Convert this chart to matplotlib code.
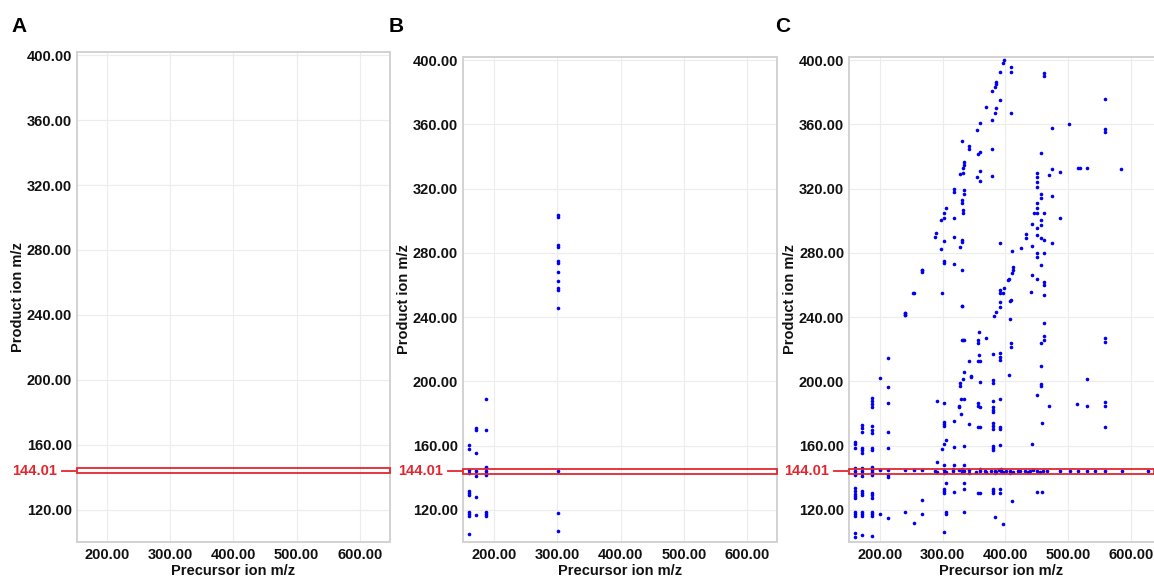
import matplotlib
matplotlib.use('Agg')
import matplotlib.pyplot as plt
import numpy as np
from matplotlib.patches import Rectangle
from matplotlib.ticker import FixedLocator, StrMethodFormatter

plt.rcParams['font.family'] = ['Liberation Sans', 'DejaVu Sans']

blue = '#0000f0'
red = '#e3262e'
target_mz = 144.01

# panel B: precursor / product ion pairs
b_precursor = [188, 188, 188, 188, 188, 188, 188, 188, 188, 188,
               171, 171, 171, 171, 171, 171, 171,
               160, 160, 160, 160, 160, 160, 160, 160, 160, 160, 160,
               301, 301, 301, 301, 301, 301, 301, 301, 301, 301, 301, 301, 301, 301]
b_product = [189, 170, 147, 146, 144.5, 143, 142, 119, 117.5, 116,
             171, 169.5, 155.6, 144, 141, 128, 117,
             160.4, 158, 145, 143, 132, 130.5, 129.4, 119, 117.5, 116, 105,
             303.5, 302.5, 285, 284, 275, 274, 268, 262.7, 258, 257, 245.7, 144.4, 118, 106.6]

# panel C: low precursor cluster
c_low_precursor = [160] * 17 + [171] * 17 + [187] * 20 + [201] * 3 + [213] * 9 + [241] * 4 + [254] * 3 + [268] * 4
c_low_product = [162.5, 161, 158.4, 146, 144.5, 143, 141.7, 133.7, 132, 130, 128.5, 127.4, 119, 117.5, 116, 105.6, 103,
                 173, 171, 168.7, 158.6, 157, 155.4, 146, 144.5, 143, 141, 132, 130.5, 129, 119, 117.5, 116, 104.4,
                 189.7, 188, 186, 184.3, 172, 170, 168, 158.6, 157.5, 146.6, 145, 143.5, 141.7, 130.5, 129, 127.4,
                 119, 117.5, 116, 104,
                 201.9, 144.9, 117.5,
                 214.4, 196.7, 186.4, 168.7, 158.4, 144.9, 141.7, 140.5, 114.8,
                 242.5, 241.5, 145, 119,
                 255, 145, 111.7,
                 269.3, 145, 126.2, 117.5]

# panel C: first diagonal series
c_diag1_precursor = [398, 397, 391, 385, 384.5, 384, 379, 391, 385, 369, 383, 379, 359, 355, 331, 343, 343,
                     357, 359, 379, 334, 334, 332, 332, 328, 355, 359, 379, 359, 334, 334, 331.5, 331.5, 332, 332,
                     409, 409, 409,
                     318, 318, 305, 303, 298, 303, 318, 290, 288, 303, 318, 331, 331, 327.5, 298, 303, 303, 318,
                     331, 268, 268, 253, 299, 331, 241, 241, 391, 391, 391, 396, 397.6, 404, 391, 391, 409,
                     385, 382, 408, 408]
c_diag1_product = [400, 398.5, 392.7, 386.5, 385, 383.4, 380.7, 375.5, 370, 370.6, 367, 363, 360.6, 356.4, 350,
                   346.5, 345, 341.3, 342.6, 344.6, 336.7, 334.6, 332.6, 330, 329, 327.4, 325, 328, 331, 319, 316.6,
                   312.9, 311, 307, 304.6,
                   395.9, 392.7, 367,
                   319.5, 318, 307.7, 304.6, 300.4, 301.5, 301.5, 292.5, 289.7, 287.6, 289.7, 288, 286.5, 283.8,
                   282.4, 275, 273.5, 273, 269.3, 269.3, 268, 255, 255, 247, 242.5, 241.5, 286.3, 257, 255, 255,
                   258, 263, 249.6, 246.5, 250.6,
                   243.4, 241, 250, 239]

# panel C: second diagonal and high precursor ions
c_diag2_precursor = [462, 462, 456.6, 451, 451, 451, 451, 470, 474, 488, 516.6, 519, 531, 585, 474, 501.6,
                     558.6, 558.6, 558.6, 456.6, 456.6, 474, 451, 451, 451, 445.4, 462, 488, 456.6, 456.6, 443,
                     432.7, 432.7, 451, 451, 456.6, 462, 474, 443, 425, 411, 451, 451, 462, 456.6, 412.5, 412,
                     410, 405.6, 443, 451, 462, 462, 462, 440.6]
c_diag2_product = [392, 390, 342, 329.7, 327, 324, 321, 328.4, 332, 330.5, 332.6, 332.6, 332.6, 332, 358, 360,
                   376, 357, 355.4, 317, 314, 315.6, 311, 308, 304.8, 304.6, 305, 302, 300.4, 297.3, 298,
                   292, 289, 295.3, 291, 289, 288, 286.3, 284.3, 282.8, 281.2, 279.7, 277.6, 279.7, 272.4, 271.4,
                   269.5, 267.3, 264, 266, 264, 262, 260, 253.8, 255.8]

# panel C: scattered fragments below 250
c_mid_precursor = [462, 462, 462, 456.6, 409, 409, 558.6, 558.6, 456.6, 456.6, 456.6, 405.6, 450.7, 469.8,
                   515, 531, 531, 558.6, 558.6, 558.6, 459, 443, 450.7, 458, 411, 383, 396.5,
                   358, 333, 335, 357, 357, 369, 380, 391, 391, 391, 358, 342, 357, 359, 334, 333, 345, 345,
                   327.5, 327.5, 359, 380, 380, 330, 334, 291, 303, 326, 326, 357, 357, 360.5, 380, 380, 380,
                   380, 391, 330, 303, 303, 303, 318, 343, 357, 359, 380, 380, 380, 391, 391,
                   306, 303, 299, 318, 334, 380, 380, 380, 391, 291, 303, 318, 335,
                   306, 303, 303, 303, 318, 335, 335, 357, 359, 380, 380, 380, 391, 391,
                   306, 306, 335, 303, 331, 331]
c_mid_product = [236.5, 228, 225.8, 223.7, 223.7, 221.6, 226.8, 224.7, 209.8, 198.4, 197, 204, 191.5, 184.7,
                 185.8, 184.7, 201.5, 187, 184.7, 171.8, 174, 160.8, 131, 131, 125.7, 115.5, 111.5,
                 230.5, 225.8, 225.8, 226, 224, 226.8, 216.8, 217.5, 215.5, 213.3, 216.5, 212.7, 213, 213,
                 205.6, 201.5, 203.4, 202.5, 198.8, 197.3, 199.6, 200.9, 198.8, 189, 189, 187.8, 186.4, 185,
                 184, 186.6, 184.7, 184, 187.8, 184, 182.5, 181, 189, 179.7, 175, 173.5, 172, 175.5, 173.5,
                 171.8, 171.8, 174, 172, 170.2, 171.8, 170.2,
                 163.5, 161, 157.8, 159, 159.8, 160, 158.5, 157.3, 160.4, 149.7, 148, 148, 148,
                 136.6, 133, 131.7, 130.4, 131, 136.6, 133, 130.8, 130.8, 133, 131.7, 130.4, 133, 130.8,
                 119, 117.5, 118.5, 106.5, 247, 226]

# panel C: product ions on the 144.01 line
c_band_precursor = [288, 292, 302, 306, 317, 327, 331, 335, 343, 354, 359, 367, 369, 378, 383, 386, 390, 394,
                    396.5, 401, 408, 413, 420, 423, 431, 436, 439, 444, 450, 455, 460, 466, 487, 503, 516,
                    530, 543, 559, 586, 627, 302, 317, 331, 343, 359, 383, 394, 408]
c_band_product = [144.5, 143.8, 144.6, 143.6, 144.4, 144.8, 143.7, 144.3, 144.6, 143.8, 144.5, 144.2, 143.6,
                  144.5, 144.1, 143.7, 144.6, 144.2, 143.8, 144.5, 144.2, 143.7, 144.4, 144.1, 144.5, 143.8,
                  144.3, 144.6, 144.1, 143.8, 144.4, 144.2, 144, 144, 144, 144, 144, 144, 144, 144,
                  142.8, 145.4, 145.5, 142.9, 145.2, 142.8, 145.3, 142.9]

y_ticks = [120, 160, 200, 240, 280, 320, 360, 400]
x_ticks = [200, 300, 400, 500, 600]

fig = plt.figure(figsize=(11.54, 5.81), dpi=100)
axA = fig.add_axes([0.0667, 0.0671, 0.2712, 0.8434])
axB = fig.add_axes([0.4012, 0.0671, 0.2721, 0.8348])
axC = fig.add_axes([0.7357, 0.0671, 0.2643, 0.8348])


def style(ax, xlim):
    ax.set_xlim(*xlim)
    ax.set_ylim(100, 402)
    ax.xaxis.set_major_locator(FixedLocator(x_ticks))
    ax.yaxis.set_major_locator(FixedLocator(y_ticks))
    ax.xaxis.set_major_formatter(StrMethodFormatter('{x:.2f}'))
    ax.yaxis.set_major_formatter(StrMethodFormatter('{x:.2f}'))
    ax.tick_params(length=0, labelsize=10.5, pad=3.5)
    ax.tick_params(axis='x', pad=4.5)
    for lab in ax.get_xticklabels() + ax.get_yticklabels():
        lab.set_fontweight('bold')
        lab.set_color('#111111')
    ax.grid(True, color='#ececec', lw=0.8)
    ax.set_axisbelow(True)
    for sp in ax.spines.values():
        sp.set_color('#d2d2d2')
        sp.set_linewidth(1.4)
    ax.set_xlabel('Precursor ion m/z', fontsize=10.5, fontweight='bold', labelpad=1.5, color='#111111')
    ax.set_ylabel('Product ion m/z', fontsize=10.5, fontweight='bold', labelpad=1, color='#111111')
    # red window around 144.01
    ax.add_patch(Rectangle((xlim[0], target_mz - 1.6), xlim[1] - xlim[0], 3.2,
                           fill=False, edgecolor=red, lw=1.3, zorder=4, clip_on=False))
    tr = ax.get_yaxis_transform()
    ax.plot([-0.048, 0], [target_mz, target_mz], color=red, lw=1.3, transform=tr, clip_on=False)
    ax.text(-0.064, target_mz, f'{target_mz:.2f}', color=red, fontsize=10.5, fontweight='bold',
            ha='right', va='center', transform=tr)


style(axA, (152, 648))
style(axB, (151, 647))
style(axC, (151, 637))
axC.spines['right'].set_visible(False)

for letter, xpix in [('A', 11), ('B', 389), ('C', 775)]:
    fig.text(xpix / 1154, 1 - 27 / 581, letter, fontsize=15, fontweight='bold', ha='left', va='center')

axB.plot(b_precursor, b_product, 'o', color=blue, ms=2.6, mew=0, zorder=3)
for xs, ys in [(c_low_precursor, c_low_product), (c_diag1_precursor, c_diag1_product),
               (c_diag2_precursor, c_diag2_product), (c_mid_precursor, c_mid_product),
               (c_band_precursor, c_band_product)]:
    axC.plot(xs, ys, 'o', color=blue, ms=2.6, mew=0, zorder=3)

fig.savefig('out.png', dpi=100)
